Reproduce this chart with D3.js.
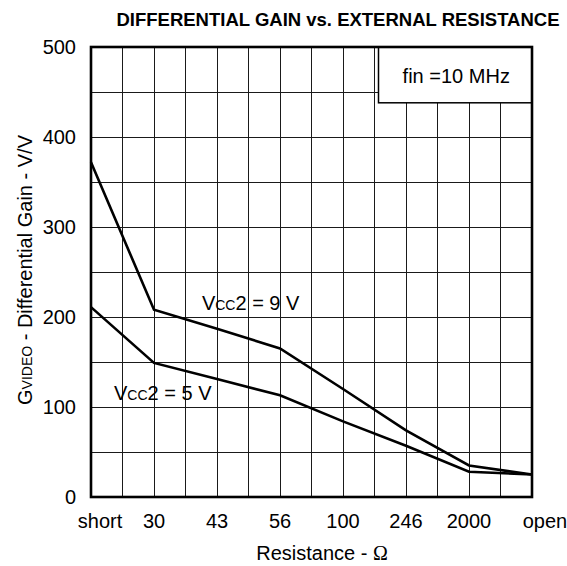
<!DOCTYPE html>
<html>
<head>
<meta charset="utf-8">
<script src="https://cdn.jsdelivr.net/npm/d3@7"></script>
<style>
  html, body { margin: 0; padding: 0; background: #fff; }
  svg { display: block; font-family: "Liberation Sans", Arial, sans-serif; }
</style>
</head>
<body>
<div id="chart"></div>
<script>
// ---- data ----
const categories = ["short", "30", "43", "56", "100", "246", "2000", "open"];
const vcc9 = [372, 208, 187, 165, 120, 74, 35, 25];
const vcc5 = [211, 149, 131, 113, 84, 57, 28, 25];
const yTicks = [0, 100, 200, 300, 400, 500];
const yGrid = [50, 100, 150, 200, 250, 300, 350, 400, 450];
const titleText = "DIFFERENTIAL GAIN vs. EXTERNAL RESISTANCE";
const legendText = "fin =10 MHz";

// ---- layout ----
const W = 567, H = 566;
const L = 91, R = 532, T = 47, B = 497;

const svg = d3.select("#chart").append("svg").attr("width", W).attr("height", H);

const x = d3.scalePoint().domain(categories).range([L, R]);
const y = d3.scaleLinear().domain([0, 500]).range([B, T]);
const half = x.step() / 2;
const xPos = i => L + i * half; // half-step positions for grid

// grid vertical (every half category step)
const vIdx = d3.range(1, (categories.length - 1) * 2);
svg.append("g").selectAll("line").data(vIdx).join("line")
  .attr("x1", d => xPos(d)).attr("x2", d => xPos(d))
  .attr("y1", T).attr("y2", B)
  .attr("stroke", "#1a1a1a").attr("stroke-width", 1).attr("shape-rendering", "crispEdges");

// grid horizontal
svg.append("g").selectAll("line").data(yGrid).join("line")
  .attr("x1", L).attr("x2", R)
  .attr("y1", d => y(d)).attr("y2", d => y(d))
  .attr("stroke", "#1a1a1a").attr("stroke-width", 1).attr("shape-rendering", "crispEdges");

// legend box
const bx = xPos(9) + 4, by = T, bw = R - bx, bh = y(438) - T;
svg.append("rect").attr("x", bx).attr("y", by).attr("width", bw).attr("height", bh)
  .attr("fill", "#fff").attr("stroke", "#000").attr("stroke-width", 1.5);
svg.append("text").attr("x", bx + bw / 2 + 1).attr("y", by + 36)
  .attr("text-anchor", "middle").attr("font-size", 20).text(legendText);

// lines
const line = d3.line().x((d, i) => x(categories[i])).y(d => y(d));
[vcc9, vcc5].forEach(s => {
  svg.append("path").datum(s).attr("d", line)
    .attr("fill", "none").attr("stroke", "#000").attr("stroke-width", 2.6)
    .attr("stroke-linejoin", "miter");
});

// plot border
svg.append("rect").attr("x", L).attr("y", T).attr("width", R - L).attr("height", B - T)
  .attr("fill", "none").attr("stroke", "#000").attr("stroke-width", 2.6);

// y tick labels
svg.append("g").selectAll("text").data(yTicks).join("text")
  .attr("x", L - 15).attr("y", d => y(d)).attr("dy", "0.35em")
  .attr("text-anchor", "end").attr("font-size", 20).text(d => d);

// x tick labels
svg.append("g").selectAll("text").data(categories).join("text")
  .attr("x", (d, i) => x(d) + (i === 0 ? 9 : i === categories.length - 1 ? 13 : 0))
  .attr("y", 528).attr("text-anchor", "middle").attr("font-size", 20).text(d => d);

// axis titles
const xl = svg.append("text").attr("x", 322).attr("y", 560).attr("text-anchor", "middle")
  .attr("font-size", 20);
xl.append("tspan").text("Resistance - ");
xl.append("tspan").attr("font-family", "'Liberation Serif', 'Times New Roman', serif").text("Ω");

const yl = svg.append("text").attr("transform", "translate(32,270) rotate(-90)")
  .attr("text-anchor", "middle").attr("font-size", 20);
yl.append("tspan").text("G");
yl.append("tspan").attr("font-size", 14).text("VIDEO");
yl.append("tspan").text(" - Differential Gain - V/V");

// title
svg.append("text").attr("x", 338).attr("y", 26).attr("text-anchor", "middle")
  .attr("font-size", 18.5).attr("font-weight", "bold").text(titleText);

// series annotations
function vccLabel(cx, cy, volts) {
  const t = svg.append("text").attr("x", cx).attr("y", cy).attr("font-size", 20);
  t.append("tspan").text("V");
  t.append("tspan").attr("font-size", 14).text("CC");
  t.append("tspan").text("2 = " + volts + " V");
}
vccLabel(xPos(3.52), y(208), 9);
vccLabel(xPos(0.73), y(108), 5);
</script>
</body>
</html>
